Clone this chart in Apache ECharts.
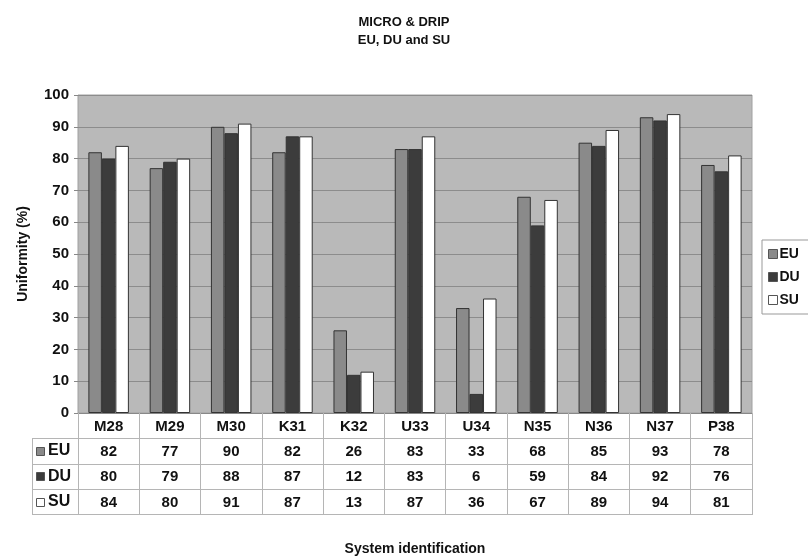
<!DOCTYPE html>
<html>
<head>
<meta charset="utf-8">
<script src="https://cdn.jsdelivr.net/npm/echarts@6/dist/echarts.min.js"></script>
<style>html,body{margin:0;padding:0;background:#fff}#c{width:808px;height:559px}</style>
</head>
<body>
<div id="c"></div>
<script>
const categories = ['M28','M29','M30','K31','K32','U33','U34','N35','N36','N37','P38'];
const seriesNames = ['EU','DU','SU'];
const EU = [82,77,90,82,26,83,33,68,85,93,78];
const DU = [80,79,88,87,12,83,6,59,84,92,76];
const SU = [84,80,91,87,13,87,36,67,89,94,81];
const yTicks = {min:0, max:100, interval:10};

const colors = ['#8a8a8a','#3c3c3c','#ffffff'];
const seriesData = [EU, DU, SU];
const FONT = 'Liberation Sans, Arial, sans-serif';

const G = {left:78, right:56, top:95, bottom:146};
const W = 808, H = 559;
const plotBottom = H - G.bottom;   // 413
const rowH = 25.3;
const tableLeft = 32, plotRight = W - G.right;
const lineColor = '#b5b5b5';

const chart = echarts.init(document.getElementById('c'), null, {renderer:'canvas'});

const graphics = [];
for (let r = 1; r <= 4; r++) {
  const y = Math.round(plotBottom + rowH * r) + 0.5;
  graphics.push({type:'line', shape:{x1:tableLeft, y1:y, x2:plotRight, y2:y}, style:{stroke:lineColor, lineWidth:1}, silent:true});
}
graphics.push({type:'line', shape:{x1:tableLeft+0.5, y1:Math.round(plotBottom+rowH)+0.5, x2:tableLeft+0.5, y2:Math.round(plotBottom+rowH*4)+0.5}, style:{stroke:lineColor, lineWidth:1}, silent:true});
seriesNames.forEach((n, i) => {
  const cy = plotBottom + rowH * (i + 1.5);
  graphics.push({type:'rect', shape:{x:36.5, y:Math.round(cy-4)+0.5, width:8, height:8}, style:{fill:colors[i], stroke:'#555', lineWidth:1}, silent:true});
  graphics.push({type:'text', x:48, y:cy, style:{text:n, font:'bold 16px ' + FONT, fill:'#111', textVerticalAlign:'middle', textAlign:'left'}, silent:true});
});

const option = {
  backgroundColor:'#fff',
  animation:false,
  title:{
    text:'MICRO & DRIP\nEU, DU and SU',
    left:'center', top:8,
    textStyle:{fontFamily:FONT, fontWeight:'bold', fontSize:13, color:'#111', lineHeight:18}
  },
  legend:{
    data:seriesNames,
    orient:'vertical',
    left:762, top:240,
    backgroundColor:'#fff',
    borderColor:'#999', borderWidth:1,
    padding:[7,12,7,6],
    itemWidth:9, itemHeight:9, itemGap:9,
    icon:'rect',
    textStyle:{fontFamily:FONT, fontWeight:'bold', fontSize:14, color:'#111', padding:[0,0,0,-3]},
    itemStyle:{borderColor:'#555', borderWidth:1}
  },
  grid:{left:G.left, right:G.right, top:G.top, bottom:G.bottom, containLabel:false, outerBoundsMode:'none', show:true, backgroundColor:'#b9b9b9', borderColor:'#a0a0a0', borderWidth:1},
  xAxis:{
    type:'category',
    data:categories,
    name:'System identification',
    nameLocation:'middle',
    nameGap:129,
    nameTextStyle:{fontFamily:FONT, fontWeight:'bold', fontSize:14, color:'#111'},
    axisLine:{show:true, lineStyle:{color:'#888'}},
    axisTick:{show:true, interval:0, length:Math.round(rowH*4)+1, lineStyle:{color:lineColor}},
    axisLabel:{
      interval:0, margin:1,
      fontFamily:FONT, fontWeight:'bold', fontSize:15, color:'#111',
      lineHeight:rowH,
      formatter:(v, idx) => [v, EU[idx], DU[idx], SU[idx]].join('\n')
    }
  },
  yAxis:{
    type:'value',
    min:yTicks.min, max:yTicks.max, interval:yTicks.interval,
    name:'Uniformity (%)',
    nameLocation:'middle',
    nameGap:48,
    nameRotate:90,
    nameTextStyle:{fontFamily:FONT, fontWeight:'bold', fontSize:14, color:'#111'},
    axisLine:{show:false},
    axisTick:{show:true, length:4, lineStyle:{color:'#888'}},
    axisLabel:{margin:9, fontFamily:FONT, fontWeight:'bold', fontSize:15, color:'#111'},
    splitLine:{show:true, lineStyle:{color:'#8c8c8c', width:1}}
  },
  series:seriesNames.map((n, i) => ({
    name:n,
    type:'bar',
    data:seriesData[i],
    barWidth:13.5,
    barGap:'0%',
    itemStyle:{color:colors[i], borderColor:'#333', borderWidth:1}
  })),
  graphic:graphics
};
chart.setOption(option);
</script>
</body>
</html>
